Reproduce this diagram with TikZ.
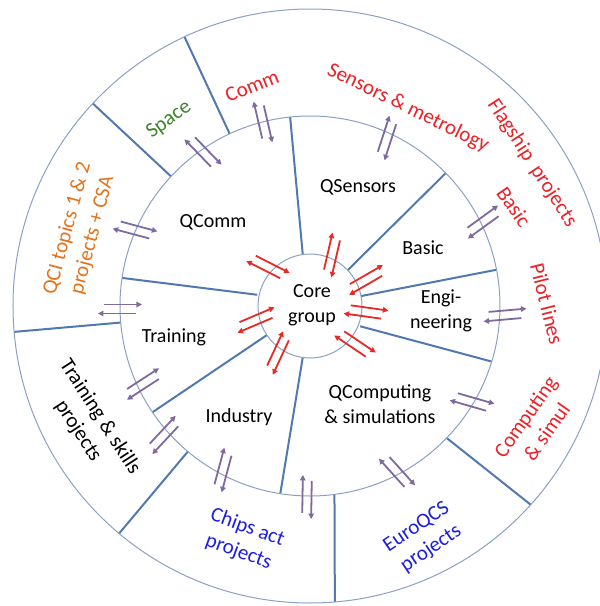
\documentclass[tikz,border=0pt]{standalone}
\usepackage{fontspec}
\setmainfont{Carlito}
\usepackage{tikz}
\usetikzlibrary{arrows.meta}

\definecolor{ringgray}{RGB}{140,160,196}
\definecolor{spokeblue}{RGB}{82,120,178}
\definecolor{pairpurple}{RGB}{126,106,160}
\definecolor{pairred}{RGB}{232,42,38}
\definecolor{flagred}{RGB}{236,32,38}
\definecolor{spacegreen}{RGB}{58,134,42}
\definecolor{qciorange}{RGB}{228,114,26}
\definecolor{chipsblue}{RGB}{28,30,226}

\tikzset{
  ring/.style={draw=ringgray, line width=1pt},
  spoke/.style={draw=spokeblue, line width=2pt},
  inner/.style={font=\fontsize{20}{25}\selectfont, align=center, inner sep=0pt},
  outer/.style={font=\fontsize{21}{26}\selectfont, align=center, inner sep=0pt},
  twoway/.style={line width=1.8pt, -{Triangle[length=5.5pt,width=5.5pt]}},
}

\begin{document}
\begin{tikzpicture}[x=1pt,y=1pt]
  \useasboundingbox (-310,-300) rectangle (290,306);

  % spokes of the inner ring
  \draw[spoke] (98:52) -- (96:190);     % QComm | QSensors
  \draw[spoke] (43.5:52) -- (44.4:190); % QSensors | Basic
  \draw[spoke] (11:52) -- (11:190);     % Basic | Engineering
  \draw[spoke] (-22:54) -- (-17:190);   % Engineering | QComputing
  \draw[spoke] (-98:52) -- (-99:190);   % QComputing | Industry
  \draw[spoke] (214:52) -- (214:190);   % Industry | Training
  \draw[spoke] (168:54) -- (171.5:190); % Training | QComm

  % spokes of the outer ring
  \draw[spoke] (115:190) -- (115:297);
  \draw[spoke] (137:190) -- (137:297);
  \draw[spoke] (185:190) -- (185:297);
  \draw[spoke] (230:190) -- (230:297);
  \draw[spoke] (-82.6:190) -- (-85.2:297);
  \draw[spoke] (-44:190) -- (-42:297);

  \draw[ring] (0,0) circle (297pt); % outer
  \draw[ring] (0,0) circle (190pt); % middle
  \draw[ring] (0,0) circle (52pt);  % core

  % arrow pairs across the middle circle
  \foreach \px/\py/\ang in {-47/184/103, -107/154/134, -175/76/165, -190/-3/180,
      -167/-78/213, -146/-129/227, -87/-164/255, -3/-191/269, 87/-166/312,
      162/-96/344, 195/-9/5, 173/84/36, 77/168/72}{
    \begin{scope}[shift={(\px,\py)}, rotate=\ang]
      \draw[twoway, pairpurple] (-16,4.5) -- (22,4.5);   % out
      \draw[twoway, pairpurple] (16,-4.5) -- (-22,-4.5); % in
    \end{scope}
  }

  % arrow pairs across the core circle
  \foreach \px/\py/\ang in {-42/39/153, 22/51/77, 56/26/30, 56/-6/-8,
      45/-38/-34, -32/-47/245, -54/-14/203}{
    \begin{scope}[shift={(\px,\py)}, rotate=\ang]
      \draw[twoway, pairred] (-16,4.5) -- (22,4.5);   % out
      \draw[twoway, pairred] (16,-4.5) -- (-22,-4.5); % in
    \end{scope}
  }

  % inner ring
  \node[inner] (core) at (2,1) {Core\\group};
  \node[inner] (qcomm) at (-97,84) {QComm};
  \node[inner] (qsensors) at (48,119) {QSensors};
  \node[inner] (basic) at (113,58) {Basic};
  \node[inner] (engineering) at (131,-5) {Engi-\\neering};
  \node[inner] (qcomputing) at (70,-98) {QComputing\\\& simulations};
  \node[inner] (industry) at (-71,-111) {Industry};
  \node[inner] (training) at (-136,-31) {Training};

  % outer ring
  \node[outer, spacegreen, rotate=36] (space) at (-141,186) {Space};
  \node[outer, flagred, rotate=22] (comm) at (-58,220) {Comm};
  \node[outer, flagred, rotate=-26] (sensors) at (98,198) {Sensors \& metrology};
  \node[outer, flagred, rotate=-57] (flagship) at (222,143) {Flagship\ \ projects};
  \node[outer, flagred, rotate=-55] (basicout) at (204,99) {Basic};
  \node[outer, flagred, rotate=-76] (pilot) at (237,2) {Pilot lines};
  \node[outer, flagred, rotate=55] (computing) at (226,-118) {Computing\\\& simul};
  \node[outer, chipsblue, rotate=34] (euroqcs) at (114,-232) {EuroQCS\\projects};
  \node[outer, chipsblue, rotate=-20] (chips) at (-67,-234) {Chips act\\projects};
  \node[outer, rotate=-57] (skills) at (-221,-118) {Training \& skills\\projects};
  \node[outer, qciorange, rotate=75] (qci) at (-230,74) {QCI topics 1 \& 2\\projects + CSA};
\end{tikzpicture}
\end{document}
